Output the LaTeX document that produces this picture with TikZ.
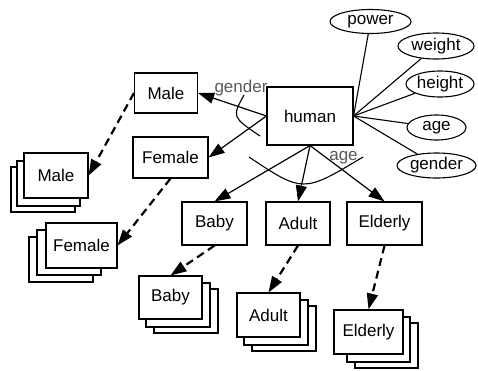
\documentclass[tikz,border=0pt]{standalone}
\usepackage{fontspec}
\setmainfont{Liberation Sans}
\usetikzlibrary{arrows.meta,shapes.geometric}

\begin{document}
\begin{tikzpicture}[x=1pt,y=-1pt,
  every node/.style={font=\fontsize{17}{19}\selectfont},
  box node/.style={rectangle,draw,fill=white,line width=1.1pt,inner sep=0pt},
  attr node/.style={ellipse,draw,fill=white,line width=1.1pt,inner sep=0pt},
  sheet/.style={draw,fill=white,line width=1.1pt},
  link/.style={line width=1.2pt,-{Triangle[length=16pt,width=11pt]}},
  copy link/.style={link,line width=2.2pt,dash pattern=on 8pt off 5pt},
  label text/.style={text=black!65}]

  \useasboundingbox (0,0) rectangle (478,370);

  % sheets behind the stacks
  \draw[sheet] (11,167) rectangle (75,212);
  \draw[sheet] (17,161) rectangle (80,206);
  \draw[sheet] (29,237) rectangle (93,282);
  \draw[sheet] (37,230) rectangle (101,275);
  \draw[sheet] (154,289) rectangle (218,333);
  \draw[sheet] (146,283) rectangle (210,327);
  \draw[sheet] (252,306) rectangle (316,351);
  \draw[sheet] (244,300) rectangle (308,345);
  \draw[sheet] (355,323) rectangle (418,368);
  \draw[sheet] (347,317) rectangle (410,362);

  \node[box node,minimum width=86pt,minimum height=58pt] (human) at (310,116) {human};
  \node[box node,minimum width=63pt,minimum height=40pt] (male) at (166,93) {Male};
  \node[box node,minimum width=75pt,minimum height=41pt] (female) at (170.5,157.5) {Female};
  \node[box node,minimum width=65pt,minimum height=43pt] (baby) at (214.5,223.5) {Baby};
  \node[box node,minimum width=64pt,minimum height=43pt] (adult) at (298,223.5) {Adult};
  \node[box node,minimum width=75pt,minimum height=43pt] (elderly) at (384.5,223.5) {Elderly};

  \node[box node,minimum width=64pt,minimum height=45pt] (males) at (56,175.5) {Male};
  \node[box node,minimum width=71pt,minimum height=45pt] (females) at (81.5,245.5) {Female};
  \node[box node,minimum width=63pt,minimum height=43pt] (babys) at (170.5,297.5) {Baby};
  \node[box node,minimum width=63pt,minimum height=44pt] (adults) at (268.5,315) {Adult};
  \node[box node,minimum width=69pt,minimum height=44pt] (elderlys) at (368.5,332) {Elderly};

  \node[attr node,minimum width=81pt,minimum height=24pt] (power) at (370.5,21.5) {power};
  \node[attr node,minimum width=76pt,minimum height=26pt] (weight) at (436,46) {weight};
  \node[attr node,minimum width=68pt,minimum height=26pt] (height) at (440,84) {height};
  \node[attr node,minimum width=59pt,minimum height=25pt] (age) at (436.5,127.5) {age};
  \node[attr node,minimum width=79pt,minimum height=25pt] (gender) at (436.5,165.5) {gender};

  \node[label text] (genderlabel) at (241,88) {gender};
  \node[label text] (agelabel) at (343.5,158) {age};

  \path[line width=1.1pt]
   (human.east) edge (power)
   (human.east) edge (weight)
   (human.east) edge (height)
   (human.east) edge (age)
   (human.east) edge (gender);

  \path[link]
   (human.west) edge (male.east)
   (human.west) edge (female.east)
   (human.south) edge (baby.north)
   (human.south) edge (adult.north)
   (human.south) edge (elderly.north);

  \path[copy link]
   (male.west) edge (males.east)
   (female.south) edge (females.east)
   (baby.south) edge (babys.north)
   (adult.south) edge (adults.north)
   (elderly.south) edge (elderlys.north);

  \draw[line width=1.1pt] (244,95) .. controls (232,117) .. (260,136);
  \draw[line width=1.1pt] (249,157) .. controls (303,193) .. (363,157);
\end{tikzpicture}
\end{document}
